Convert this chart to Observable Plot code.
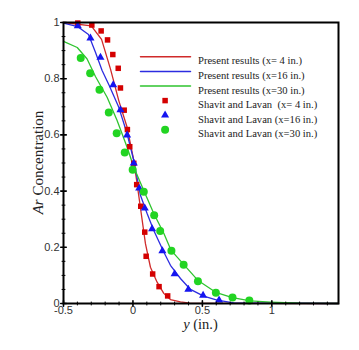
<!DOCTYPE html>
<html><head><meta charset="utf-8">
<script src="https://cdn.jsdelivr.net/npm/d3@7"></script>
<script src="https://cdn.jsdelivr.net/npm/@observablehq/plot@0.6"></script>
<style>body{margin:0;background:#fff} #chart{width:359px;height:350px}</style>
</head><body><div id="chart"></div>
<script>
// Simulation lines (Present results)
const redLineX   = [-0.5, -0.3, -0.226, -0.162, -0.102, -0.042, 0.006, 0.03, 0.057, 0.09, 0.126, 0.174, 0.222, 0.27, 0.342, 0.41, 1.48];
const redLineY   = [1.0, 0.988, 0.94, 0.835, 0.722, 0.627, 0.509, 0.426, 0.33, 0.213, 0.129, 0.076, 0.036, 0.014, 0.006, 0.001, 0];
const blueLineX  = [-0.5, -0.397, -0.32, -0.27, -0.222, -0.17, -0.102, -0.042, 0.006, 0.054, 0.102, 0.15, 0.222, 0.27, 0.342, 0.414, 0.509, 0.606, 0.725, 1.48];
const blueLineY  = [0.998, 0.985, 0.957, 0.894, 0.829, 0.775, 0.698, 0.604, 0.509, 0.385, 0.32, 0.26, 0.183, 0.136, 0.089, 0.05, 0.026, 0.012, 0.002, 0];
const greenLineX = [-0.5, -0.401, -0.33, -0.27, -0.186, -0.114, -0.042, 0.006, 0.078, 0.15, 0.222, 0.275, 0.365, 0.466, 0.596, 0.716, 0.845, 0.99, 1.2, 1.48];
const greenLineY = [0.933, 0.911, 0.87, 0.808, 0.734, 0.651, 0.556, 0.485, 0.402, 0.32, 0.25, 0.189, 0.139, 0.083, 0.04, 0.021, 0.009, 0.005, 0.001, 0];

// Experimental points (Shavit and Lavan)
const redPtsX   = [-0.397, -0.296, -0.229, -0.183, -0.145, -0.106, -0.09, -0.063, -0.04, -0.023, 0.006, 0.027, 0.056, 0.085, 0.095, 0.142, 0.188, 0.25];
const redPtsY   = [0.998, 0.991, 0.97, 0.938, 0.886, 0.837, 0.767, 0.688, 0.619, 0.558, 0.499, 0.423, 0.346, 0.254, 0.168, 0.105, 0.06, 0.027];
const bluePtsX  = [-0.397, -0.306, -0.234, -0.142, -0.09, -0.042, 0.006, 0.045, 0.085, 0.138, 0.212, 0.3, 0.399, 0.505, 0.62];
const bluePtsY  = [0.988, 0.944, 0.876, 0.778, 0.689, 0.599, 0.499, 0.41, 0.339, 0.265, 0.187, 0.105, 0.05, 0.029, 0.012];
const greenPtsX = [-0.376, -0.308, -0.241, -0.174, -0.117, -0.059, -0.002, 0.078, 0.153, 0.196, 0.277, 0.365, 0.468, 0.597, 0.717, 0.838];
const greenPtsY = [0.874, 0.819, 0.761, 0.68, 0.606, 0.537, 0.476, 0.398, 0.314, 0.258, 0.188, 0.138, 0.079, 0.038, 0.021, 0.011];

const legendLabels = ["Present results (x= 4 in.)", "Present results (x=16 in.)", "Present results (x=30 in.)",
                      "Shavit and Lavan  (x= 4 in.)", "Shavit and Lavan (x=16 in.)", "Shavit and Lavan (x=30 in.)"];
const xTicks = [-0.5, 0, 0.5, 1];
const yTicks = [0, 0.2, 0.4, 0.6, 0.8, 1];
const xDomain = [-0.5, 1.48];
const yDomain = [0, 1];

const lineColors = ["#d02a2a", "#2c2ce0", "#2fc42f"];
const ptColors = ["#d40000", "#1515f0", "#22d422"];
const symbols = ["square", "triangle", "circle"];
const ptR = [3.1, 3.0, 4.0];

const zip = (xs, ys) => xs.map((x, i) => ({x, y: ys[i]}));
const lines = [zip(redLineX, redLineY), zip(blueLineX, blueLineY), zip(greenLineX, greenLineY)];
const pts = [zip(redPtsX, redPtsY), zip(bluePtsX, bluePtsY), zip(greenPtsX, greenPtsY)];

const xMinor = d3.range(-0.4, 1.45, 0.1).map(v => +v.toFixed(2)).filter(v => !xTicks.some(t => Math.abs(t - v) < 1e-6));
const yMinor = d3.range(0.05, 1, 0.05).map(v => +v.toFixed(2)).filter(v => !yTicks.some(t => Math.abs(t - v) < 1e-6));
const tickShape = {draw(ctx, l) { ctx.moveTo(0, 0); ctx.lineTo(0, -l); }};

const legendTop = 34.3, legendStep = 14.6;
const legendMarks = [];
legendLabels.forEach((label, i) => {
  const dy = legendTop + i * legendStep;
  legendMarks.push(Plot.text([label], {frameAnchor: "top-left", dx: 134.5, dy, text: d => d, textAnchor: "start",
    fontFamily: "'Liberation Serif', 'Times New Roman', serif", fontSize: 10.6, fill: "#222", style: "white-space:pre"}));
  if (i < 3) {
    legendMarks.push(Plot.vector([0], {frameAnchor: "top-left", dx: 77, dy, rotate: 90, length: 50, anchor: "start",
      shape: tickShape, stroke: lineColors[i], strokeWidth: 1.5}));
  } else {
    legendMarks.push(Plot.dot([0], {frameAnchor: "top-left", dx: 101.6, dy, symbol: symbols[i - 3], r: ptR[i - 3],
      fill: ptColors[i - 3], stroke: "none"}));
  }
});

const plot = Plot.plot({
  width: 359, height: 350,
  marginLeft: 63, marginRight: 21, marginTop: 22, marginBottom: 47,
  style: {fontFamily: "'Liberation Sans', Arial, sans-serif", background: "#fff"},
  x: {domain: xDomain},
  y: {domain: yDomain},
  marks: [
    ...lines.map((data, i) => Plot.line(data, {x: "x", y: "y", stroke: lineColors[i], strokeWidth: 1.3})),
    ...pts.map((data, i) => Plot.dot(data, {x: "x", y: "y", symbol: symbols[i], r: ptR[i], fill: ptColors[i], stroke: "none"})),
    Plot.vector(xMinor, {x: d => d, frameAnchor: "bottom", length: 3, shape: tickShape, stroke: "#000", strokeWidth: 1}),
    Plot.vector(xTicks, {x: d => d, frameAnchor: "bottom", length: 5.5, shape: tickShape, stroke: "#000", strokeWidth: 1.6}),
    Plot.vector(yMinor, {y: d => d, frameAnchor: "left", rotate: 90, length: 3, shape: tickShape, stroke: "#000", strokeWidth: 1}),
    Plot.vector(yTicks, {y: d => d, frameAnchor: "left", rotate: 90, length: 5.5, shape: tickShape, stroke: "#000", strokeWidth: 1.6}),
    Plot.axisX({ticks: xTicks, tickSize: 0, tickPadding: 3, tickFormat: d => String(d), label: null, fontSize: 11, color: "#333"}),
    Plot.axisY({ticks: yTicks, tickSize: 0, tickPadding: 4, tickFormat: d => String(d), label: null, fontSize: 11, color: "#333"}),
    Plot.frame({stroke: "#000", strokeWidth: 2}),
    ...legendMarks
  ]
});

const svg = d3.select(plot);
const serif = "'Liberation Serif', 'Times New Roman', serif";
const yl = svg.append("text")
  .attr("transform", "translate(42.5,162.5) rotate(-90)")
  .attr("text-anchor", "middle").attr("font-family", serif).attr("font-size", 15).attr("fill", "#222");
yl.append("tspan").attr("font-style", "italic").text("Ar");
yl.append("tspan").text(" Concentration");
const xl = svg.append("text")
  .attr("x", 200.5).attr("y", 328.5)
  .attr("text-anchor", "middle").attr("font-family", serif).attr("font-size", 14.5).attr("fill", "#222");
xl.append("tspan").attr("font-style", "italic").text("y");
xl.append("tspan").text(" (in.)");

document.getElementById("chart").appendChild(plot);
</script>
</body></html>
